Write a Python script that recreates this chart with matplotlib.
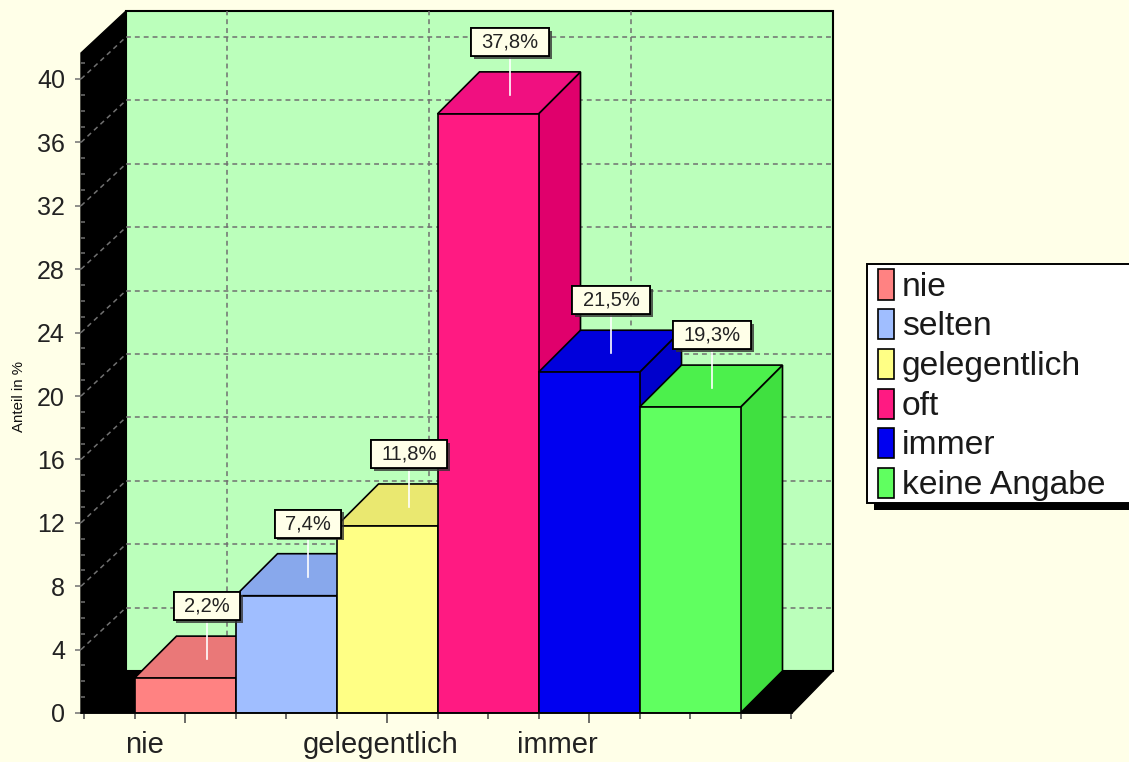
import matplotlib
matplotlib.use('Agg')
import matplotlib.pyplot as plt
import matplotlib.patheffects as pe
from matplotlib.patches import Rectangle, Polygon
from matplotlib.transforms import IdentityTransform

plt.rcParams['font.family'] = ['Liberation Sans', 'DejaVu Sans']

# data
categories = ['nie', 'selten', 'gelegentlich', 'oft', 'immer', 'keine Angabe']
values = [2.2, 7.4, 11.8, 37.8, 21.5, 19.3]
value_labels = ['2,2%', '7,4%', '11,8%', '37,8%', '21,5%', '19,3%']
front_colors = ['#FF8282', '#A0BEFF', '#FFFF85', '#FF1A82', '#0000F0', '#60FF60']
top_colors = ['#EA7878', '#88A8EC', '#EAE870', '#F01080', '#0000DC', '#4CF04C']
side_colors = ['#D86868', '#7894D8', '#D8D860', '#E0006C', '#0000CC', '#40E040']
xtick_labels = ['nie', 'gelegentlich', 'immer']
xtick_pos = [0, 2, 4]

W, H = 1129, 762
bg = '#FFFFE8'
wall = '#BBFFBB'
grid = '#707070'

fig = plt.figure(figsize=(W/100, H/100), dpi=100, facecolor=bg)

# pixels of the front plane
px_left, px_right, px_bottom, px_top = 81, 833, 713, 11
px_unit_x, px_unit_y = 101.0, 15.85
x0_px = 185.0


def fx(px):
    return px/W


def fy(py):
    return 1-py/H


ax = fig.add_axes([fx(px_left), fy(px_bottom), (px_right-px_left)/W, (px_bottom-px_top)/H])
ax.set_facecolor('none')
ax.set_xlim((px_left-x0_px)/px_unit_x, (px_right-x0_px)/px_unit_x)
ax.set_ylim(0, (px_bottom-px_top)/px_unit_y)

dx = 42/px_unit_x
dy = 42/px_unit_y
wall_dx = 45/px_unit_x
xl, xr = ax.get_xlim()
yt = ax.get_ylim()[1]
x_front_end = (792-x0_px)/px_unit_x

# back wall, left wall, floor
ax.add_patch(Polygon([(xl+wall_dx, dy), (xl+wall_dx, yt), (xr, yt), (xr, dy)], fc=wall, ec='black', lw=1.5, zorder=1, clip_on=False))
ax.add_patch(Polygon([(xl, 0), (xl+wall_dx, dy), (xr, dy), (x_front_end, 0)], fc='black', ec='black', lw=1, zorder=1.2, clip_on=False))
ax.add_patch(Polygon([(xl, 0), (xl, yt-dy), (xl+wall_dx, yt), (xl+wall_dx, dy)], fc='black', ec='black', lw=1, zorder=1.2, clip_on=False))

# grid on the walls
dash = (0, (3.2, 2.6))
for v in range(4, 44, 4):
    ax.plot([xl+wall_dx, xr], [v+dy, v+dy], color=grid, lw=1.1, ls=dash, zorder=1.5)
    ax.plot([xl, xl+wall_dx], [v, v+dy], color=grid, lw=1.1, ls=dash, zorder=1.5)
for x in xtick_pos:
    ax.plot([x+dx, x+dx], [dy, yt], color=grid, lw=1.1, ls=dash, zorder=1.5)

# bars, left to right so the later ones cover the earlier ones
for i, v in enumerate(values):
    z = 3+i
    l, r = i-0.5, i+0.5
    ax.add_patch(Polygon([(r, 0), (r+dx, dy), (r+dx, v+dy), (r, v)], fc=side_colors[i], ec='black', lw=1.2, zorder=z))
    ax.add_patch(Polygon([(l, v), (l+dx, v+dy), (r+dx, v+dy), (r, v)], fc=top_colors[i], ec='black', lw=1.2, zorder=z))
    ax.bar(i, v, width=1, color=front_colors[i], edgecolor='black', lw=1.2, zorder=z)

# axes
for s in ['top', 'left', 'right']:
    ax.spines[s].set_visible(False)
ax.spines['bottom'].set_bounds(xl, x_front_end)
ax.spines['bottom'].set_linewidth(1.2)
ax.spines['bottom'].set_zorder(15)

ax.set_yticks(range(0, 44, 4))
ax.set_yticks(range(0, 42), minor=True)
ax.tick_params(axis='y', which='major', direction='out', length=4.5, width=1.1, color=grid, labelsize=18, labelcolor='#222222', pad=7)
ax.tick_params(axis='y', which='minor', direction='in', length=3, width=1.1, color=grid)
ax.set_xticks(xtick_pos)
ax.set_xticks([k/2 for k in range(-2, 13)], minor=True)
ax.set_xticklabels(['', '', ''])
ax.tick_params(axis='x', which='major', direction='out', length=7, width=1.1, color='#444444')
ax.tick_params(axis='x', which='minor', direction='out', length=4, width=1.1, color='#444444')

# x labels sit left of their ticks in the original
label_px = [145, 381, 557]
for name, px in zip(xtick_labels, label_px):
    fig.text(fx(px), fy(745), name, ha='center', va='center', fontsize=21, color='#222222')

fig.text(fx(19), fy(396), 'Anteil in %', rotation=90, ha='center', va='center', fontsize=10.8, color='#111111')

# value labels with white leader, box sized from the text
renderer = fig.canvas.get_renderer()
for i, v in enumerate(values):
    lx = i+22/px_unit_x
    ax.plot([lx, lx], [v+19/px_unit_y, v+72/px_unit_y], color='white', lw=1.2, zorder=20)
    t = ax.text(lx, v+72/px_unit_y, value_labels[i], ha='center', va='center', fontsize=14.5, color='#222222', zorder=22)
    bb = t.get_window_extent(renderer)
    cy = (bb.y0+bb.y1)/2
    box = Rectangle((bb.x0-10.5, cy-14), bb.width+21, 28, transform=IdentityTransform(), fc=bg, ec='black', lw=1.3, zorder=21)
    box.set_path_effects([pe.withSimplePatchShadow(offset=(2, -2), shadow_rgbFace='#333333', alpha=0.8), pe.Normal()])
    ax.add_artist(box)

# legend box
fig.add_artist(Rectangle((fx(874), fy(510)), 300/W, 10/H, transform=fig.transFigure, fc='black', ec='none'))
fig.add_artist(Rectangle((fx(867), fy(503)), 300/W, 239/H, transform=fig.transFigure, fc='white', ec='black', lw=1.4))
for i, name in enumerate(categories):
    yc = 284.5+39.7*i
    fig.add_artist(Rectangle((fx(877.5), fy(yc+15)), 16/W, 30/H, transform=fig.transFigure, fc=front_colors[i], ec='black', lw=1.2))
    fig.text(fx(902), fy(yc+2.5), name, ha='left', va='center', fontsize=24.2, color='#1a1a1a')

fig.savefig('out.png', dpi=100, facecolor=bg)
